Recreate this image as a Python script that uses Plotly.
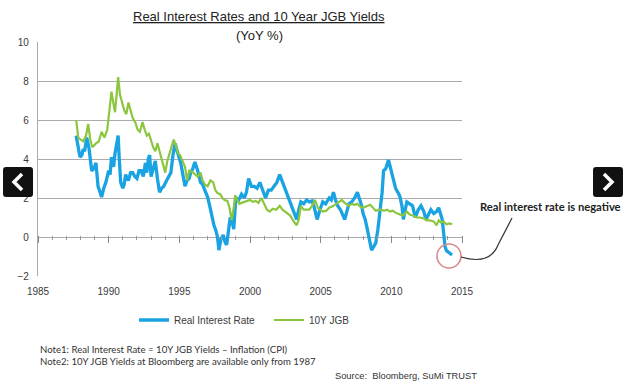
import plotly.graph_objects as go

# ---------------- data ----------------
jgb_years = [1987.7, 1987.85, 1988.0, 1988.2, 1988.4, 1988.55, 1988.7, 1988.85, 1989.1, 1989.3,
             1989.5, 1989.7, 1989.9, 1990.05, 1990.2, 1990.35, 1990.45, 1990.55, 1990.67, 1990.8,
             1990.95, 1991.1, 1991.25, 1991.4, 1991.55, 1991.7, 1991.9, 1992.05, 1992.2, 1992.4,
             1992.55, 1992.7, 1992.85, 1993.0, 1993.15, 1993.3, 1993.45, 1993.6, 1993.75, 1993.9,
             1994.0, 1994.15, 1994.3, 1994.45, 1994.6, 1994.75, 1994.9, 1995.05, 1995.2, 1995.4,
             1995.55, 1995.7, 1995.9, 1996.1, 1996.3, 1996.5, 1996.65, 1996.8, 1997.0, 1997.2,
             1997.4, 1997.55, 1997.7, 1997.9, 1998.05, 1998.2, 1998.4, 1998.55, 1998.7, 1998.85,
             1998.95, 1999.1, 1999.25, 1999.4, 1999.6, 1999.8, 2000.0, 2000.2, 2000.4, 2000.6,
             2000.8, 2001.0, 2001.2, 2001.4, 2001.6, 2001.85, 2002.1, 2002.3, 2002.5, 2002.7,
             2002.85, 2003.0, 2003.15, 2003.3, 2003.45, 2003.6, 2003.8, 2004.0, 2004.2, 2004.4,
             2004.6, 2004.8, 2005.0, 2005.15, 2005.4, 2005.6, 2005.9, 2006.1, 2006.3, 2006.5,
             2006.7, 2007.0, 2007.2, 2007.4, 2007.6, 2007.8, 2008.0, 2008.3, 2008.5, 2008.7,
             2008.9, 2009.2, 2009.5, 2009.7, 2009.9, 2010.1, 2010.3, 2010.6, 2010.8, 2011.1,
             2011.3, 2011.5, 2011.8, 2012.0, 2012.3, 2012.5, 2012.7, 2013.0, 2013.2, 2013.35,
             2013.5, 2013.7, 2013.9, 2014.1, 2014.3]
jgb_values = [6.0, 5.1, 5.0, 4.9, 5.2, 5.8, 5.0, 4.6, 4.8, 4.9,
              5.4, 5.1, 5.5, 6.6, 7.45, 6.8, 6.4, 7.2, 8.2, 7.3,
              6.9, 6.5, 6.3, 6.9, 6.5, 6.1, 5.85, 5.5, 5.4, 5.9,
              5.5, 5.2, 5.3, 4.9, 4.6, 4.4, 4.8, 4.4, 4.0, 3.7,
              3.3, 3.9, 4.3, 4.6, 5.0, 4.7, 4.3, 4.2, 3.9, 3.6,
              2.9, 3.4, 3.35, 3.2, 3.1, 3.3, 2.9, 2.7, 2.6, 2.9,
              2.8, 2.4, 2.25, 2.2, 2.0, 1.9, 1.85, 1.5, 0.87, 1.5,
              2.15, 1.9, 1.7, 1.75, 1.8, 1.85, 1.9, 1.8, 1.85, 1.75,
              2.0, 1.7, 1.4, 1.3, 1.45, 1.4, 1.6, 1.4, 1.3, 1.2,
              1.1, 0.9, 0.75, 0.6, 0.9, 1.6, 1.4, 1.4, 1.4, 1.6,
              1.9, 1.5, 1.4, 1.3, 1.35, 1.5, 1.6, 1.7, 1.8, 1.9,
              1.75, 1.6, 1.7, 1.65, 1.7, 1.55, 1.5, 1.6, 1.65, 1.5,
              1.35, 1.4, 1.35, 1.4, 1.3, 1.35, 1.25, 1.15, 1.1, 1.3,
              1.15, 1.1, 1.0, 1.0, 0.95, 0.85, 0.85, 0.8, 0.6, 0.85,
              0.75, 0.8, 0.65, 0.7, 0.65]

real_years = [1987.7, 1987.85, 1987.97, 1988.1, 1988.2, 1988.3, 1988.45, 1988.6, 1988.7, 1988.8,
              1988.95, 1989.1, 1989.25, 1989.4, 1989.5, 1989.65, 1989.8, 1990.0, 1990.1, 1990.2,
              1990.35, 1990.45, 1990.55, 1990.67, 1990.75, 1990.85, 1991.0, 1991.1, 1991.2, 1991.3,
              1991.4, 1991.55, 1991.7, 1991.85, 1992.0, 1992.15, 1992.3, 1992.45, 1992.6, 1992.7,
              1992.8, 1992.9, 1993.0, 1993.15, 1993.3, 1993.45, 1993.6, 1993.75, 1993.9, 1994.1,
              1994.25, 1994.4, 1994.55, 1994.7, 1994.85, 1995.0, 1995.1, 1995.25, 1995.4, 1995.55,
              1995.7, 1995.8, 1995.95, 1996.1, 1996.3, 1996.5, 1996.65, 1996.8, 1997.0, 1997.15,
              1997.3, 1997.45, 1997.6, 1997.7, 1997.8, 1997.95, 1998.1, 1998.25, 1998.35, 1998.5,
              1998.6, 1998.7, 1998.85, 1999.0, 1999.2, 1999.4, 1999.6, 1999.75, 1999.9, 2000.1,
              2000.3, 2000.5, 2000.7, 2000.9, 2001.1, 2001.3, 2001.5, 2001.7, 2001.9, 2002.1,
              2002.3, 2002.5, 2002.7, 2002.9, 2003.1, 2003.3, 2003.45, 2003.6, 2003.8, 2004.0,
              2004.2, 2004.4, 2004.55, 2004.75, 2004.95, 2005.15, 2005.35, 2005.6, 2005.75, 2005.9,
              2006.05, 2006.2, 2006.4, 2006.55, 2006.7, 2006.85, 2007.0, 2007.2, 2007.4, 2007.6,
              2007.75, 2007.9, 2008.0, 2008.15, 2008.3, 2008.45, 2008.6, 2008.75, 2008.9, 2009.05,
              2009.2, 2009.35, 2009.45, 2009.6, 2009.8, 2009.95, 2010.1, 2010.3, 2010.45, 2010.6,
              2010.75, 2010.85, 2010.95, 2011.1, 2011.3, 2011.5, 2011.7, 2011.9, 2012.1, 2012.3,
              2012.45, 2012.6, 2012.8, 2013.0, 2013.2, 2013.35, 2013.5, 2013.6, 2013.7, 2013.8,
              2013.9, 2014.0, 2014.1, 2014.2, 2014.3]
real_values = [5.2, 4.6, 4.1, 4.2, 4.5, 4.4, 5.1, 4.6, 4.0, 3.4,
               3.5, 3.8, 2.6, 2.3, 2.05, 2.5, 2.8, 3.4, 3.2, 4.1,
               3.6, 4.3, 4.7, 5.2, 4.0, 2.8, 2.5, 2.7, 3.2, 3.0,
               2.9, 3.3, 3.3, 3.1, 3.0, 3.4, 3.4, 3.1, 3.8, 3.3,
               4.0, 4.2, 3.1, 3.5, 3.9, 3.0, 2.3, 2.5, 2.6, 2.9,
               3.1, 3.3, 4.2, 4.8, 4.4, 4.0, 3.8, 3.2, 2.6, 2.9,
               3.0, 3.3, 3.5, 3.85, 3.4, 2.8, 2.7, 2.4, 2.05, 1.6,
               1.0, 0.6, 0.3, 0.0, -0.67, -0.1, 0.1, -0.3, -0.4, 0.5,
               1.0, 0.9, 0.4, 2.0, 1.9, 2.2, 2.0, 2.3, 3.0, 2.6,
               2.6, 2.5, 2.8, 2.4, 2.0, 2.4, 2.4, 2.6, 2.8, 3.2,
               2.8, 2.4, 2.1, 1.7, 1.3, 0.9, 1.4, 1.8, 1.7, 1.9,
               1.8, 1.85, 1.5, 0.9, 1.4, 1.8, 1.7, 2.0, 1.9, 2.3,
               1.9, 1.6, 1.4, 1.1, 0.9, 1.3, 1.7, 1.8, 2.0, 2.3,
               2.0, 1.6, 1.2, 0.9, 0.4, -0.2, -0.67, -0.5, -0.3, 0.4,
               1.4, 2.3, 3.4, 3.5, 3.95, 3.5, 3.1, 2.5, 2.3, 2.1,
               1.6, 0.9, 1.3, 1.8, 1.7, 1.6, 1.0, 1.4, 1.6, 1.3,
               0.9, 1.1, 1.4, 1.2, 1.3, 1.5, 1.2, 0.9, 0.2, -0.5,
               -0.7, -0.75, -0.8, -0.85, -0.92]

series_names = ["Real Interest Rate", "10Y JGB"]
x_tick_years = [1985, 1990, 1995, 2000, 2005, 2010, 2015]
y_ticks = [-2, 0, 2, 4, 6, 8, 10]

title_main = "Real Interest Rates and 10 Year JGB Yields"
title_sub = "(YoY %)"
note1 = "Note1: Real Interest Rate = 10Y JGB Yields \u2013 Inflation (CPI)"
note2 = "Note2: 10Y JGB Yields at Bloomberg are available only from 1987"
source = "Source:  Bloomberg, SuMi TRUST"
callout = "Real interest rate is negative"

# ---------------- layout geometry ----------------
W, H = 629, 389
L, R, T, B = 38, 167, 42, 113
PW, PH = W - L - R, H - T - B


def px(xp):
    return (xp - L) / PW


def py(yp):
    return (H - B - yp) / PH


BLUE = "#1aa3e3"
GREEN = "#8cc63e"
GRID = "#ababab"
TXT = "#3a3a3a"
FONT = "Liberation Sans, Arial, sans-serif"

fig = go.Figure()
fig.add_trace(go.Scatter(x=real_years, y=real_values, mode="lines", name=series_names[0],
                         line=dict(color=BLUE, width=3.3)))
fig.add_trace(go.Scatter(x=jgb_years, y=jgb_values, mode="lines", name=series_names[1],
                         line=dict(color=GREEN, width=2.2), xaxis="x2"))

xrange = [1985, 2015]
# tick axis sits just above the zero line so that its ticks straddle it
zero_pos = (0 - (-2)) / 12.0 + 2.5 / PH

fig.update_layout(
    width=W, height=H,
    margin=dict(l=L, r=R, t=T, b=B, autoexpand=False),
    paper_bgcolor="white", plot_bgcolor="white",
    showlegend=True,
    legend=dict(orientation="h", x=px(134), y=py(320), xanchor="left", yanchor="middle",
                font=dict(family=FONT, size=10, color=TXT), itemwidth=30, entrywidth=90,
                bgcolor="rgba(0,0,0,0)", tracegroupgap=0),
    xaxis=dict(range=xrange, tickvals=x_tick_years, ticktext=[str(v) for v in x_tick_years],
               showgrid=False, zeroline=False, showline=False, ticks="",
               tickfont=dict(family=FONT, size=10, color=TXT), ticklabelstandoff=8),
    xaxis2=dict(range=xrange, tickvals=x_tick_years, showgrid=False, zeroline=False,
                showticklabels=False, showline=False, overlaying="x", anchor="free",
                position=zero_pos, ticks="outside", ticklen=7, tickwidth=1, tickcolor="#8a8a8a",
                minor=dict(dtick=1, ticks="outside", ticklen=4, tickwidth=1, tickcolor="#9a9a9a")),
    yaxis=dict(range=[-2, 10], tickvals=y_ticks, showgrid=True, gridcolor=GRID, gridwidth=1.3,
               zeroline=True, zerolinecolor=GRID, zerolinewidth=1.3,
               showline=True, linecolor=GRID, linewidth=1.3, ticks="",
               tickfont=dict(family=FONT, size=10, color=TXT), ticklabelstandoff=6),
)

annotations = [
    dict(text="<u>" + title_main + "</u>", x=px(259), y=py(17), font=dict(size=13, color="#222")),
    dict(text=title_sub, x=px(259), y=py(35), font=dict(size=13, color="#222")),
    dict(text=note1, x=px(38), y=py(349), xanchor="left",
         font=dict(family="Lato, sans-serif", size=9.6, color="#333")),
    dict(text=note2, x=px(38), y=py(361), xanchor="left",
         font=dict(family="Lato, sans-serif", size=9.6, color="#333")),
    dict(text=source, x=px(333), y=py(376), xanchor="left", font=dict(size=9.3, color="#333")),
    dict(text="<b>" + callout + "</b>", x=px(478), y=py(206), xanchor="left",
         font=dict(family="Lato, sans-serif", size=11.2, color="#222")),
]
for a in annotations:
    a.setdefault("xanchor", "center")
    a.update(xref="paper", yref="paper", yanchor="middle", showarrow=False)
    a["font"].setdefault("family", FONT)
fig.update_layout(annotations=annotations)


def ppath(cmds):
    out = []
    for cmd, pts in cmds:
        out.append(cmd + " " + " ".join(f"{px(a):.4f},{py(b):.4f}" for a, b in pts))
    return " ".join(out).strip()


def rounded_rect(x0, y0, x1, y1, r):
    return ppath([("M", [(x0 + r, y0)]), ("L", [(x1 - r, y0)]), ("Q", [(x1, y0), (x1, y0 + r)]),
                  ("L", [(x1, y1 - r)]), ("Q", [(x1, y1), (x1 - r, y1)]), ("L", [(x0 + r, y1)]),
                  ("Q", [(x0, y1), (x0, y1 - r)]), ("L", [(x0, y0 + r)]),
                  ("Q", [(x0, y0), (x0 + r, y0)])]) + " Z"


shapes = [
    # callout circle and connector
    dict(type="circle", xref="paper", yref="paper", x0=px(437), x1=px(461), y0=py(268), y1=py(244),
         line=dict(color="#d98a8c", width=1.6)),
    dict(type="path", xref="paper", yref="paper",
         path=ppath([("M", [(461, 257)]), ("C", [(478, 262), (492, 260), (498, 245)]),
                     ("L", [(512, 218)])]),
         line=dict(color="#333", width=1.2)),
    # navigation buttons
    dict(type="path", xref="paper", yref="paper", path=rounded_rect(3, 167, 33, 197, 3),
         fillcolor="#111", line=dict(width=0)),
    dict(type="path", xref="paper", yref="paper",
         path=ppath([("M", [(22, 174)]), ("L", [(14, 182)]), ("L", [(22, 190)])]),
         line=dict(color="white", width=3.5)),
    dict(type="path", xref="paper", yref="paper", path=rounded_rect(593, 167, 623, 197, 3),
         fillcolor="#111", line=dict(width=0)),
    dict(type="path", xref="paper", yref="paper",
         path=ppath([("M", [(604, 174)]), ("L", [(612, 182)]), ("L", [(604, 190)])]),
         line=dict(color="white", width=3.5)),
]
fig.update_layout(shapes=shapes)

fig.write_html("out.html", config={"displayModeBar": False},
               post_script="document.body.style.margin='0';document.body.style.padding='0';")
